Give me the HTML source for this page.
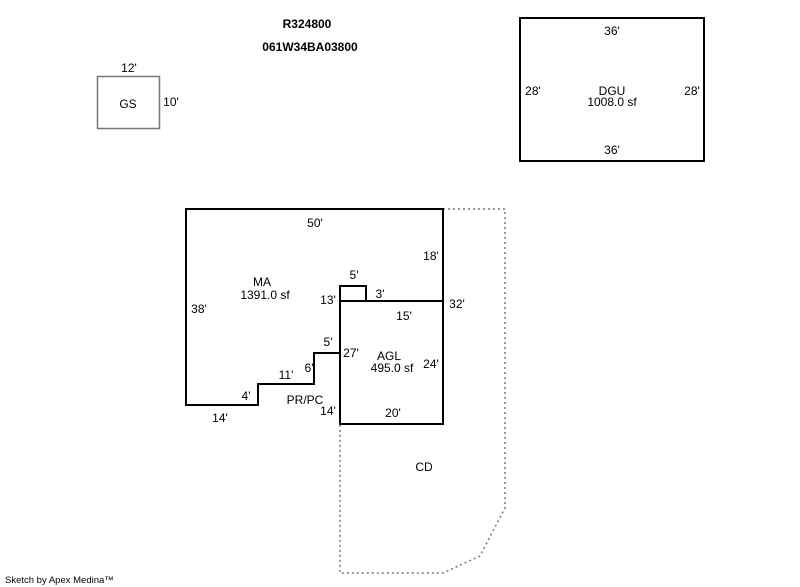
<!DOCTYPE html>
<html><head><meta charset="utf-8"><style>
html,body{margin:0;padding:0;background:#fff;}
svg{display:block;}
text{font-family:"Liberation Sans",Arial,sans-serif;font-size:12px;fill:#000;}
</style></head><body>
<svg width="800" height="587" viewBox="0 0 800 587" xmlns="http://www.w3.org/2000/svg">
<g text-anchor="middle">
<text x="307" y="28" font-weight="bold">R324800</text>
<text x="310" y="51" font-weight="bold">061W34BA03800</text>
</g>
<rect x="97.5" y="76.5" width="62" height="52" fill="none" stroke="#777" stroke-width="1.5"/>
<g text-anchor="middle">
<text x="129" y="72">12'</text>
<text x="128" y="108">GS</text>
<text x="171" y="106">10'</text>
</g>
<rect x="520" y="18" width="184" height="143" fill="none" stroke="#000" stroke-width="2"/>
<g text-anchor="middle">
<text x="612" y="35">36'</text>
<text x="612" y="154">36'</text>
<text x="533" y="95">28'</text>
<text x="692" y="95">28'</text>
<text x="612" y="95">DGU</text>
<text x="612" y="106">1008.0 sf</text>
</g>
<polyline points="443,209 505,209 505,508 480,556 443,573 340,573 340,424" fill="none" stroke="#777" stroke-width="1.5" stroke-dasharray="2,3"/>
<polygon points="186,209 443,209 443,301 366,301 366,286 340,286 340,353 314,353 314,384 258,384 258,405 186,405" fill="none" stroke="#000" stroke-width="2"/>
<rect x="340" y="301" width="103" height="123" fill="none" stroke="#000" stroke-width="2"/>
<g text-anchor="middle">
<text x="315" y="227">50'</text>
<text x="431" y="260">18'</text>
<text x="262" y="286">MA</text>
<text x="265" y="299">1391.0 sf</text>
<text x="199" y="313">38'</text>
<text x="354" y="279">5'</text>
<text x="328" y="304">13'</text>
<text x="380" y="298">3'</text>
<text x="457" y="308">32'</text>
<text x="404" y="320">15'</text>
<text x="328" y="346">5'</text>
<text x="351" y="357">27'</text>
<text x="309" y="372">6'</text>
<text x="389" y="360">AGL</text>
<text x="392" y="372">495.0 sf</text>
<text x="431" y="368">24'</text>
<text x="286" y="379">11'</text>
<text x="246" y="400">4'</text>
<text x="305" y="404">PR/PC</text>
<text x="328" y="415">14'</text>
<text x="393" y="417">20'</text>
<text x="220" y="422">14'</text>
<text x="424" y="471">CD</text>
</g>
<text x="5" y="583" style="font-size:9.5px">Sketch by Apex Medina™</text>
</svg>
</body></html>
